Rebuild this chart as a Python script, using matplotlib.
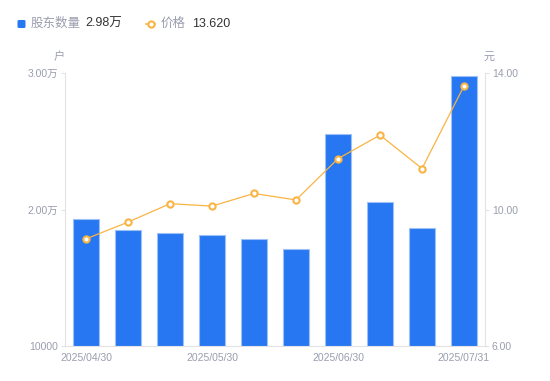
import matplotlib
matplotlib.use("Agg")
import matplotlib.pyplot as plt
from matplotlib.lines import Line2D
from matplotlib.patches import FancyBboxPatch

plt.rcParams['font.family'] = ['Liberation Sans', 'Noto Sans CJK SC', 'DejaVu Sans']

dates = ["2025/04/30", "2025/05/10", "2025/05/20", "2025/05/30", "2025/06/10",
         "2025/06/20", "2025/06/30", "2025/07/10", "2025/07/20", "2025/07/31"]
holders = [19300, 18500, 18250, 18150, 17820, 17080, 25530, 20550, 18620, 29800]
prices = [9.14, 9.63, 10.17, 10.10, 10.47, 10.28, 11.49, 12.18, 11.20, 13.62]
shown_labels = {0: "2025/04/30", 3: "2025/05/30", 6: "2025/06/30", 9: "2025/07/31"}
left_ticks = [10000, 20000, 30000]
left_ticklabels = ["10000", "2.00万", "3.00万"]
right_ticks = [6, 10, 14]
right_ticklabels = ["6.00", "10.00", "14.00"]

BAR = "#2677F1"
BAR_EDGE = "#9DC0F7"
LINE = "#F9B444"
GRAY = "#9A9DAE"
AXIS = "#E3E3E6"
DARK = "#333333"

fig = plt.figure(figsize=(5.5, 3.81), dpi=100)
ax = fig.add_axes([65/550, 35/381, 420/550, 273/381])
x = list(range(len(dates)))
ax.bar(x, holders, width=0.6, color=BAR, edgecolor=BAR_EDGE, linewidth=0.8, zorder=2)
ax.set_xlim(-0.5, len(dates) - 0.5)
ax.set_ylim(10000, 30000)
ax.set_yticks(left_ticks)
ax.set_yticklabels(left_ticklabels)
ax.set_xticks(list(shown_labels.keys()))
ax.set_xticklabels(list(shown_labels.values()))
ax.tick_params(axis='x', length=0, colors=GRAY, labelsize=7.5, pad=5)
ax.tick_params(axis='y', length=3, width=0.8, color=AXIS, labelcolor=GRAY, labelsize=7.5, pad=2)
for s in ['top', 'right']:
    ax.spines[s].set_visible(False)
ax.spines['left'].set_color(AXIS)
ax.spines['bottom'].set_color(AXIS)
ax.spines['left'].set_linewidth(0.8)
ax.spines['bottom'].set_linewidth(0.8)

ax2 = ax.twinx()
ax2.plot(x, prices, color=LINE, linewidth=0.9, marker='o', markersize=4.5,
         markerfacecolor='white', markeredgecolor=LINE, markeredgewidth=1.5, zorder=3)
ax2.set_ylim(6, 14)
ax2.set_yticks(right_ticks)
ax2.set_yticklabels(right_ticklabels)
ax2.tick_params(axis='y', length=3, width=0.8, color=AXIS, labelcolor=GRAY, labelsize=7.5, pad=2)
for s in ['top', 'left', 'bottom']:
    ax2.spines[s].set_visible(False)
ax2.spines['right'].set_color(AXIS)
ax2.spines['right'].set_linewidth(0.8)

# unit labels
fig.text(59/550, 1 - 57/381, "户", color=GRAY, fontsize=8, ha='center', va='center')
fig.text(489/550, 1 - 57/381, "元", color=GRAY, fontsize=8, ha='center', va='center')

# legend
ly = 1 - 24/381
fig.patches.append(FancyBboxPatch((17.5/550, 1 - 28/381), 8/550, 8/381,
                                  boxstyle="round,pad=0,rounding_size=0.003",
                                  transform=fig.transFigure, facecolor=BAR, edgecolor='none'))
fig.text(31/550, ly, "股东数量", color=GRAY, fontsize=9, ha='left', va='center')
fig.text(85/550, ly, "2.98万", color=DARK, fontsize=9, ha='left', va='center')
fig.lines.append(Line2D([146/550, 155/550], [ly, ly], transform=fig.transFigure, color=LINE,
                        linewidth=1.2))
fig.lines.append(Line2D([150.5/550], [ly], transform=fig.transFigure, color=LINE, linestyle='none',
                        marker='o', markersize=4.5, markerfacecolor='white', markeredgewidth=1.5))
fig.text(161/550, ly, "价格", color=GRAY, fontsize=9, ha='left', va='center')
fig.text(192/550, ly, "13.620", color=DARK, fontsize=9, ha='left', va='center')

fig.savefig("out.png", dpi=100)
